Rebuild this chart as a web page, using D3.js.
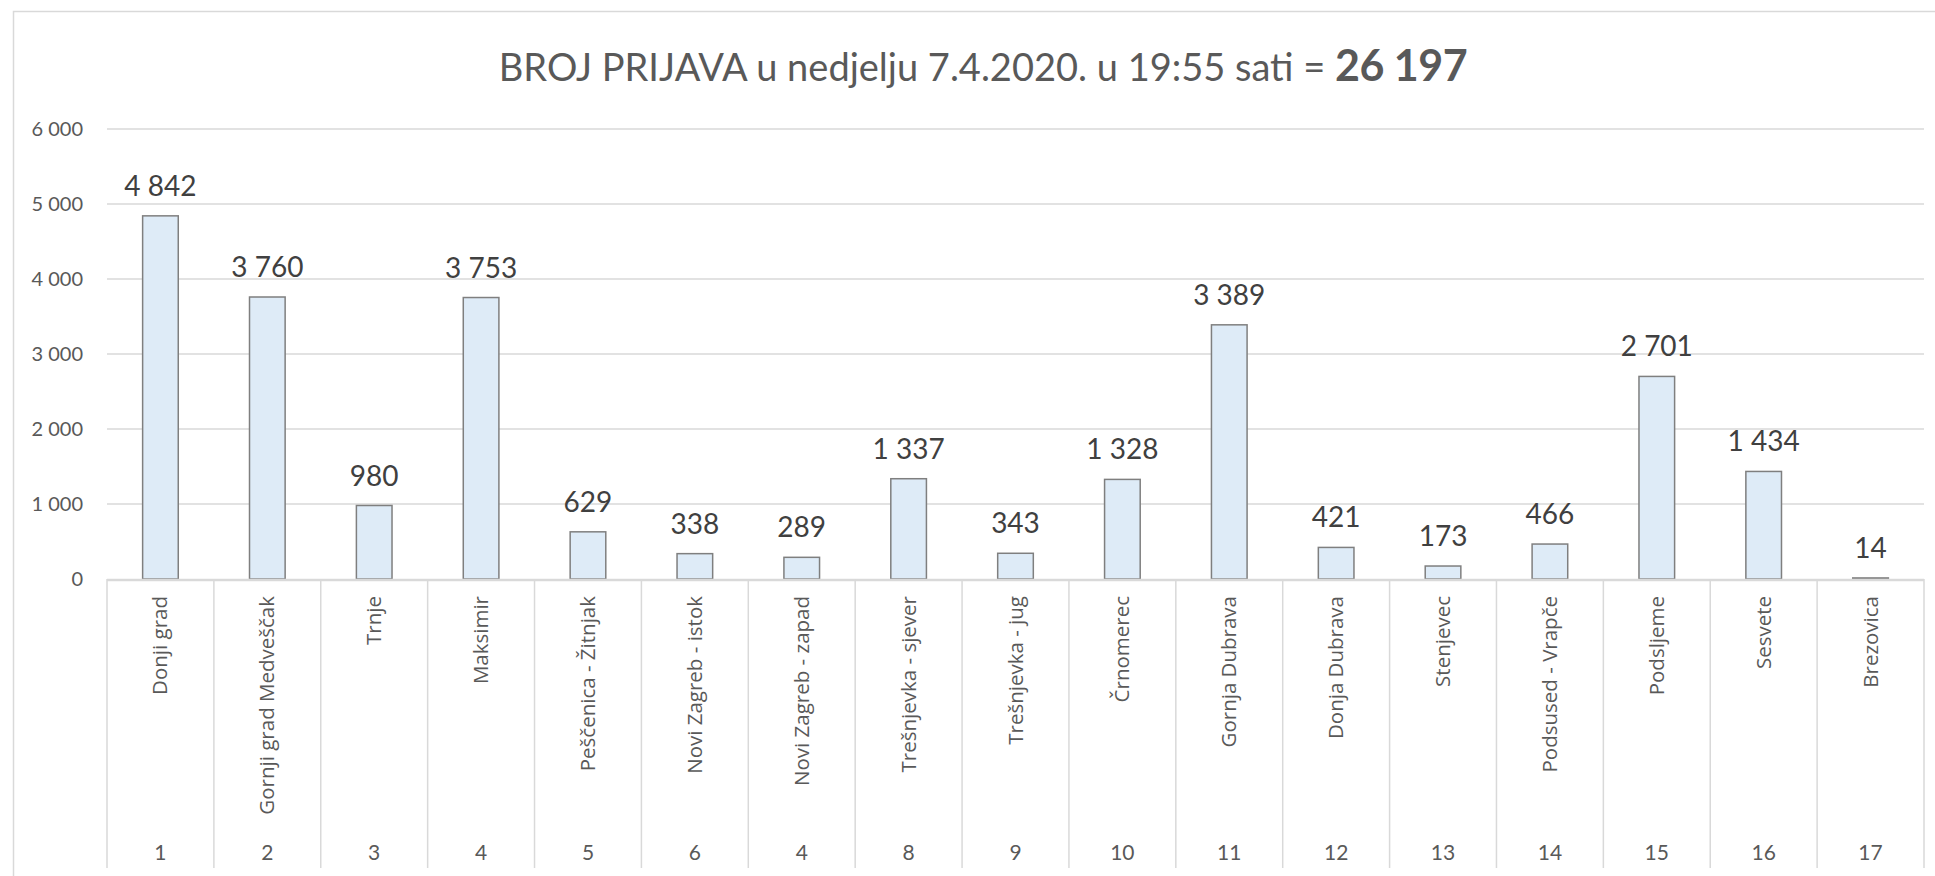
<!DOCTYPE html>
<html>
<head>
<meta charset="utf-8">
<script src="https://cdn.jsdelivr.net/npm/d3@7"></script>
<style>
  html, body { margin: 0; padding: 0; background: #fff; }
  svg { display: block; }
</style>
</head>
<body>
<svg id="chart" width="1935" height="876"></svg>
<script>
// districts (row 1 of the category axis)
var districts = [
    'Donji grad', 'Gornji grad Medveščak', 'Trnje', 'Maksimir',
    'Peščenica - Žitnjak', 'Novi Zagreb - istok', 'Novi Zagreb - zapad',
    'Trešnjevka - sjever', 'Trešnjevka - jug', 'Črnomerec', 'Gornja Dubrava',
    'Donja Dubrava', 'Stenjevec', 'Podsused - Vrapče', 'Podsljeme',
    'Sesvete', 'Brezovica'
];
// district numbers (row 2 of the category axis, as printed)
var numbers = ['1', '2', '3', '4', '5', '6', '4', '8', '9', '10',
               '11', '12', '13', '14', '15', '16', '17'];
// number of reports per district
var reports = [4842, 3760, 980, 3753, 629, 338, 289, 1337, 343, 1328,
               3389, 421, 173, 466, 2701, 1434, 14];
var yTicks = [0, 1000, 2000, 3000, 4000, 5000, 6000];
var titleText = 'BROJ PRIJAVA u nedjelju 7.4.2020. u 19:55 sati = ';
var titleTotal = '26 197';

var svg = d3.select('#chart');

// number format with a space as the thousands separator
var fmt = d3.formatLocale({decimal: ',', thousands: '\u00a0', grouping: [3], currency: ['', '']}).format(',d');

var plot = {left: 107, right: 1924, top: 129, bottom: 579, axisBottom: 868};

var x = d3.scaleBand()
    .domain(d3.range(reports.length))
    .range([plot.left, plot.right])
    .padding(0);
var y = d3.scaleLinear()
    .domain([0, 6000])
    .range([plot.bottom, plot.top]);

// chart frame
svg.append('rect')
    .attr('x', 13.5).attr('y', 11.5)
    .attr('width', 1940).attr('height', 880)
    .attr('fill', '#fff')
    .attr('stroke', '#d9d9d9')
    .attr('stroke-width', 1.5);

// title
var title = svg.append('text')
    .attr('x', 983)
    .attr('y', 81)
    .attr('text-anchor', 'middle')
    .attr('fill', '#595959')
    .style('font-family', 'Lato, sans-serif');
title.append('tspan')
    .style('font-size', '38px')
    .text(titleText);
title.append('tspan')
    .style('font-size', '43px')
    .style('font-weight', 'bold')
    .style('letter-spacing', '-0.5px')
    .text(titleTotal);

// horizontal gridlines
svg.append('g').selectAll('line.grid')
    .data(yTicks.filter(function (d) { return d > 0; }))
    .enter().append('line')
    .attr('class', 'grid')
    .attr('x1', plot.left).attr('x2', plot.right)
    .attr('y1', function (d) { return y(d); })
    .attr('y2', function (d) { return y(d); })
    .attr('stroke', '#d9d9d9')
    .attr('stroke-width', 1.5);

// y axis labels
var yAxis = d3.axisLeft(y)
    .tickValues(yTicks)
    .tickSize(0)
    .tickPadding(24)
    .tickFormat(fmt);
var gy = svg.append('g')
    .attr('transform', 'translate(' + plot.left + ',0)')
    .call(yAxis);
gy.select('.domain').remove();
gy.selectAll('text')
    .attr('fill', '#595959')
    .style('font-family', 'Lato, sans-serif')
    .style('font-size', '20px');

// bars
var barW = x.bandwidth() / 3;
svg.append('g').selectAll('rect.bar')
    .data(reports)
    .enter().append('rect')
    .attr('class', 'bar')
    .attr('x', function (d, i) { return x(i) + (x.bandwidth() - barW) / 2; })
    .attr('y', function (d) { return y(d); })
    .attr('width', barW)
    .attr('height', function (d) { return y(0) - y(d); })
    .attr('fill', '#deebf7')
    .attr('stroke', '#7f7f7f')
    .attr('stroke-width', 1.5);

// value labels
svg.append('g').selectAll('text.val')
    .data(reports)
    .enter().append('text')
    .attr('class', 'val')
    .attr('x', function (d, i) { return x(i) + x.bandwidth() / 2; })
    .attr('y', function (d) { return y(d) - 20; })
    .attr('text-anchor', 'middle')
    .attr('fill', '#404040')
    .style('font-family', 'Lato, sans-serif')
    .style('font-size', '28px')
    .text(function (d) { return fmt(d); });

// category axis: baseline
svg.append('line')
    .attr('x1', plot.left).attr('x2', plot.right)
    .attr('y1', y(0) + 1).attr('y2', y(0) + 1)
    .attr('stroke', '#d9d9d9')
    .attr('stroke-width', 2.5);

// category separators
var edges = d3.range(reports.length).map(function (i) { return x(i); }).concat([plot.right]);
svg.append('g').selectAll('line.sep')
    .data(edges)
    .enter().append('line')
    .attr('class', 'sep')
    .attr('x1', function (d) { return d; })
    .attr('x2', function (d) { return d; })
    .attr('y1', y(0))
    .attr('y2', plot.axisBottom)
    .attr('stroke', '#d9d9d9')
    .attr('stroke-width', 1.5);

// district names, rotated
svg.append('g').selectAll('text.name')
    .data(districts)
    .enter().append('text')
    .attr('class', 'name')
    .attr('transform', function (d, i) {
        return 'translate(' + (x(i) + x.bandwidth() / 2 + 7) + ',596) rotate(-90)';
    })
    .attr('text-anchor', 'end')
    .attr('fill', '#595959')
    .style('font-family', '"Open Sans", sans-serif')
    .style('font-size', '20.5px')
    .text(function (d) { return d; });

// district numbers
svg.append('g').selectAll('text.num')
    .data(numbers)
    .enter().append('text')
    .attr('class', 'num')
    .attr('x', function (d, i) { return x(i) + x.bandwidth() / 2; })
    .attr('y', 860)
    .attr('text-anchor', 'middle')
    .attr('fill', '#595959')
    .style('font-family', 'Lato, sans-serif')
    .style('font-size', '21px')
    .text(function (d) { return d; });
</script>
</body>
</html>
